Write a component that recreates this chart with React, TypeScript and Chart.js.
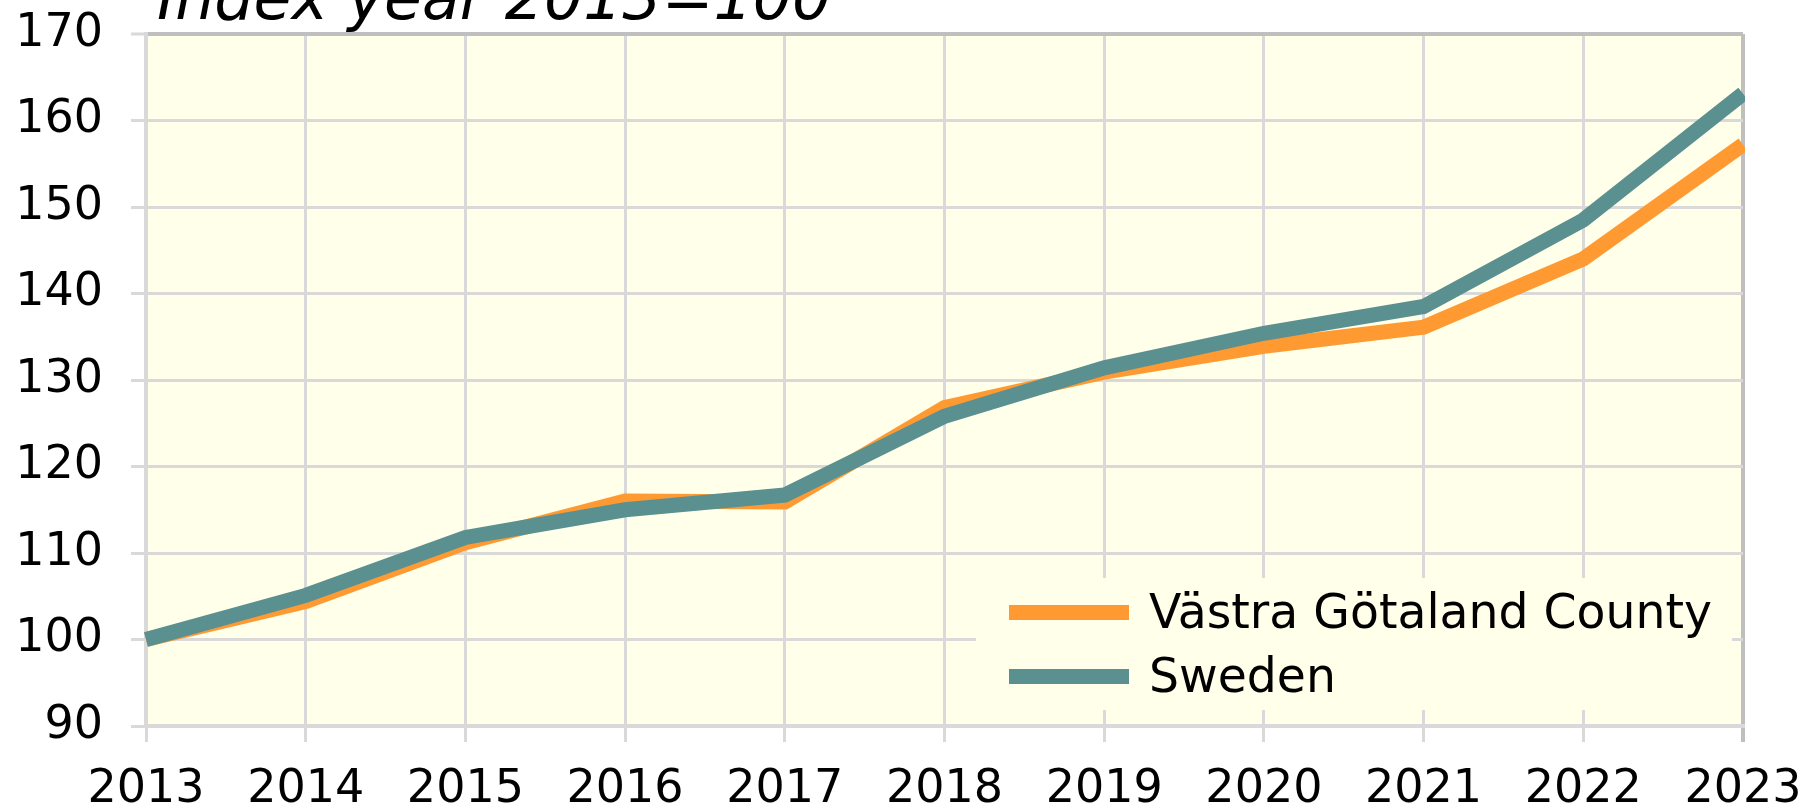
import React, { useEffect, useRef } from "react";
import { Chart, registerables } from "chart.js";

Chart.register(...registerables);

const years = ["2013", "2014", "2015", "2016", "2017", "2018", "2019", "2020", "2021", "2022", "2023"];
const vastraGotaland = [100, 104.4, 111.2, 116.0, 115.9, 126.8, 130.9, 133.9, 136.1, 144.0, 157.2];
const sweden = [100, 105.1, 111.8, 115.0, 116.7, 125.8, 131.4, 135.4, 138.5, 148.5, 163.1];
const seriesNames = ["Västra Götaland County", "Sweden"];
const seriesColors = ["#FF9A33", "#5B9090"];
const yMin = 90;
const yMax = 170;
const yStep = 10;
const titleText = "Index year 2013=100";

const FONT = "'DejaVu Sans', Verdana, sans-serif";
const PLOT_BG = "#FFFFEA";
const GRID = "#D9D9D9";
const BORDER = "#BFBFBF";

const bgPlugin = {
  id: "plotBg",
  beforeDraw(chart: any) {
    const { ctx, chartArea: a } = chart;
    ctx.save();
    ctx.fillStyle = PLOT_BG;
    ctx.fillRect(a.left, a.top, a.right - a.left, a.bottom - a.top);
    ctx.restore();
  },
};

const titlePlugin = {
  id: "cutTitle",
  afterDraw(chart: any) {
    const { ctx } = chart;
    ctx.save();
    ctx.font = `italic 61.7px ${FONT}`;
    ctx.fillStyle = "#000";
    ctx.textBaseline = "alphabetic";
    ctx.textAlign = "left";
    ctx.fillText(titleText, 157, 19);
    ctx.restore();
  },
};

const legendPlugin = {
  id: "innerLegend",
  afterDraw(chart: any) {
    const { ctx } = chart;
    const box = { x: 976, y: 578, w: 756, h: 132 };
    ctx.save();
    ctx.fillStyle = PLOT_BG;
    ctx.fillRect(box.x, box.y, box.w, box.h);
    const rows = [612, 676];
    chart.data.datasets.forEach((ds: any, i: number) => {
      const cy = rows[i];
      ctx.fillStyle = ds.borderColor;
      ctx.fillRect(1009, cy - 7, 120, 15);
      ctx.fillStyle = "#000";
      ctx.font = `47.3px ${FONT}`;
      ctx.textAlign = "left";
      ctx.textBaseline = "alphabetic";
      ctx.fillText(ds.label, 1149, cy + 16);
    });
    ctx.restore();
  },
};

export default function App() {
  const ref = useRef<HTMLCanvasElement | null>(null);

  useEffect(() => {
    document.body.style.margin = "0";
    if (!ref.current) return;
    const lastX = years.length - 1;
    const chart = new Chart(ref.current, {
      type: "line",
      data: {
        labels: years,
        datasets: [
          {
            label: seriesNames[0],
            data: vastraGotaland,
            borderColor: seriesColors[0],
            backgroundColor: seriesColors[0],
            borderWidth: 15,
            pointRadius: 0,
            tension: 0,
            order: 1,
            clip: 2,
            borderJoinStyle: "miter",
          },
          {
            label: seriesNames[1],
            data: sweden,
            borderColor: seriesColors[1],
            backgroundColor: seriesColors[1],
            borderWidth: 15,
            pointRadius: 0,
            tension: 0,
            order: 0,
            clip: 2,
            borderJoinStyle: "miter",
          },
        ],
      },
      options: {
        responsive: false,
        animation: false,
        devicePixelRatio: 1,
        layout: { padding: { top: 34, right: 64, left: 0, bottom: 0 } },
        plugins: {
          legend: { display: false },
          title: { display: false },
          tooltip: { enabled: false },
        },
        scales: {
          x: {
            type: "category",
            offset: false,
            afterFit(scale: any) {
              scale.height = 84;
              scale.paddingLeft = 0;
              scale.paddingRight = 0;
              scale.paddingTop = 0;
              scale.paddingBottom = 0;
            },
            grid: {
              color: (c: any) => (c.index === lastX ? BORDER : GRID),
              lineWidth: (c: any) => (c.index === lastX ? 4 : 3),
              tickColor: (c: any) => (c.index === lastX ? BORDER : GRID),
              tickWidth: (c: any) => (c.index === lastX ? 4 : 3),
              tickLength: 16,
              drawTicks: true,
            },
            border: { display: true, color: GRID, width: 4 },
            ticks: {
              color: "#000",
              font: { family: FONT, size: 46 },
              padding: 20,
              maxRotation: 0,
              autoSkip: false,
            },
          },
          y: {
            min: yMin,
            max: yMax,
            afterFit(scale: any) {
              scale.width = 146;
              scale.paddingLeft = 0;
              scale.paddingRight = 0;
              scale.paddingTop = 0;
              scale.paddingBottom = 0;
            },
            grid: {
              color: (c: any) => (c.tick && c.tick.value === yMax ? BORDER : GRID),
              lineWidth: (c: any) => (c.tick && c.tick.value === yMax ? 4 : 3),
              tickColor: GRID,
              tickWidth: 3,
              tickLength: 15,
            },
            border: { display: true, color: GRID, width: 4 },
            ticks: {
              stepSize: yStep,
              color: "#000",
              font: { family: FONT, size: 46 },
              padding: 28,
            },
          },
        },
      },
      plugins: [bgPlugin, legendPlugin, titlePlugin],
    } as any);
    return () => chart.destroy();
  }, []);

  return (
    <div style={{ width: 1807, height: 810 }}>
      <canvas ref={ref} width={1807} height={810} style={{ display: "block" }} />
    </div>
  );
}
